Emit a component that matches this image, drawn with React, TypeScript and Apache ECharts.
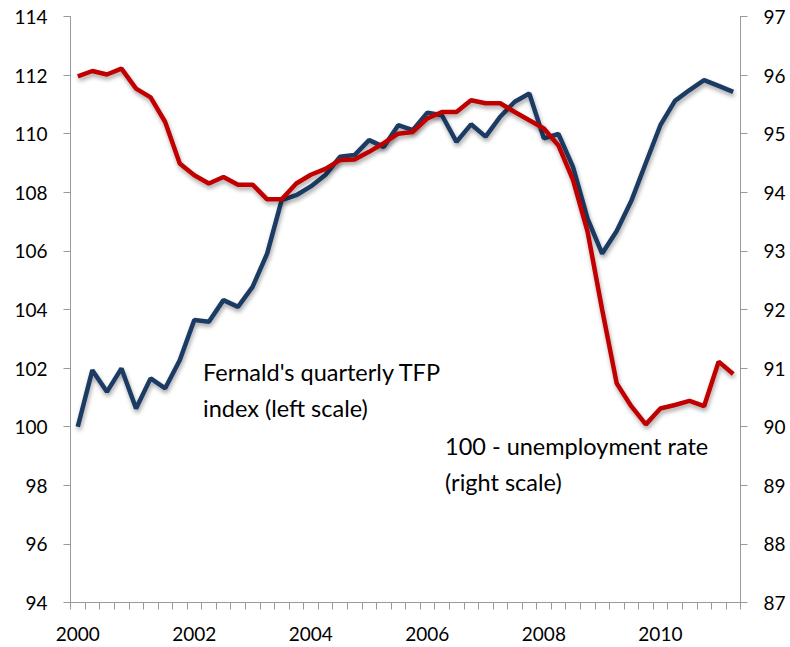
import React, { useEffect, useRef } from "react";
import * as echarts from "echarts";

// quarterly categories 2000Q1 .. 2011Q2
const years = [2000, 2001, 2002, 2003, 2004, 2005, 2006, 2007, 2008, 2009, 2010, 2011];
const quarters: string[] = [];
years.forEach((y) => {
  ["Q1", "Q2", "Q3", "Q4"].forEach((q) => {
    if (y === 2011 && (q === "Q3" || q === "Q4")) return;
    quarters.push(`${y}${q}`);
  });
});

// Fernald's quarterly TFP index (left scale)
const tfp = [
  100.0, 101.93, 101.19, 101.99, 100.62, 101.65, 101.31, 102.27,
  103.64, 103.58, 104.32, 104.09, 104.77, 105.91, 107.73, 107.9,
  108.2, 108.59, 109.21, 109.27, 109.78, 109.55, 110.29, 110.12,
  110.72, 110.63, 109.72, 110.32, 109.9, 110.58, 111.09, 111.37,
  109.84, 109.99, 108.87, 107.1, 105.91, 106.68, 107.7, 109.0,
  110.29, 111.12, 111.49, 111.83, 111.63, 111.43,
];

// 100 - unemployment rate (right scale)
const empl = [
  95.98, 96.07, 96.01, 96.11, 95.77, 95.62, 95.2, 94.49,
  94.29, 94.15, 94.26, 94.13, 94.13, 93.88, 93.88, 94.15,
  94.3, 94.4, 94.55, 94.56, 94.69, 94.84, 95.0, 95.03,
  95.26, 95.37, 95.37, 95.57, 95.52, 95.52, 95.37, 95.23,
  95.09, 94.8, 94.21, 93.33, 92.0, 90.74, 90.35, 90.04,
  90.31, 90.37, 90.44, 90.35, 91.11, 90.9,
];

const FONT = "Lato, 'Open Sans', sans-serif";

export default function App() {
  const ref = useRef<HTMLDivElement>(null);
  useEffect(() => {
    document.body.style.margin = "0";
    const chart = echarts.init(ref.current!, undefined, { renderer: "svg" });
    const axisColor = "#9a9a9a";
    const shadow = {
      shadowColor: "rgba(0,0,0,0.35)",
      shadowBlur: 4,
      shadowOffsetX: 1,
      shadowOffsetY: 3,
    };
    chart.setOption({
      animation: false,
      backgroundColor: "#ffffff",
      grid: { left: 70.5, right: 49.5, top: 16.5, bottom: 44.5, containLabel: false },
      xAxis: {
        type: "category",
        data: quarters,
        boundaryGap: true,
        axisLine: { lineStyle: { color: axisColor, width: 1 } },
        axisTick: { show: true, interval: 0, length: 7, alignWithLabel: false, lineStyle: { color: axisColor } },
        axisLabel: {
          interval: 7,
          margin: 21,
          fontSize: 19,
          fontFamily: FONT,
          color: "#000",
          formatter: (v: string) => v.slice(0, 4),
        },
        splitLine: { show: false },
      },
      yAxis: [
        {
          type: "value",
          min: 94,
          max: 114,
          interval: 2,
          position: "left",
          axisLine: { show: true, lineStyle: { color: axisColor } },
          axisTick: { show: true, length: 7, lineStyle: { color: axisColor } },
          axisLabel: { margin: 23, fontSize: 19, fontFamily: FONT, color: "#000" },
          splitLine: { show: false },
        },
        {
          type: "value",
          min: 87,
          max: 97,
          interval: 1,
          position: "right",
          axisLine: { show: true, lineStyle: { color: axisColor } },
          axisTick: { show: true, length: 7, lineStyle: { color: axisColor } },
          axisLabel: { margin: 23, fontSize: 19, fontFamily: FONT, color: "#000" },
          splitLine: { show: false },
        },
      ],
      series: [
        {
          name: "Fernald's quarterly TFP index",
          type: "line",
          yAxisIndex: 0,
          data: tfp,
          symbol: "none",
          lineStyle: { color: "#1c3a63", width: 4.5, ...shadow },
        },
        {
          name: "100 - unemployment rate",
          type: "line",
          yAxisIndex: 1,
          data: empl,
          symbol: "none",
          lineStyle: { color: "#c00000", width: 4.5, ...shadow },
        },
      ],
      graphic: [
        {
          type: "text",
          left: 203,
          top: 354,
          style: {
            text: "Fernald's quarterly TFP\nindex (left scale)",
            fontSize: 23.5,
            lineHeight: 36,
            fontFamily: FONT,
            fill: "#000",
          },
        },
        {
          type: "text",
          left: 445,
          top: 428,
          style: {
            text: "100 - unemployment rate\n(right scale)",
            fontSize: 23.5,
            lineHeight: 36,
            fontFamily: FONT,
            fill: "#000",
          },
        },
      ],
    });
    return () => chart.dispose();
  }, []);
  return <div ref={ref} style={{ width: 790, height: 647 }} />;
}
